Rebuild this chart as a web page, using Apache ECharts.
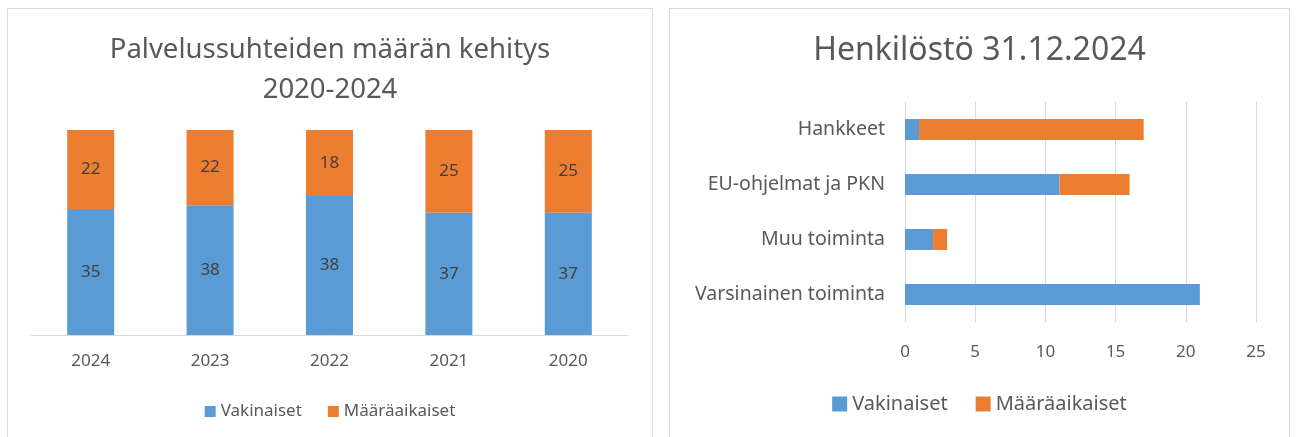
<!DOCTYPE html>
<html>
<head>
<meta charset="utf-8">
<script src="https://cdn.jsdelivr.net/npm/echarts@6/dist/echarts.min.js"></script>
<style>
  html, body { margin: 0; padding: 0; background: #fff; overflow: hidden; }
  .panel { position: absolute; top: 8px; height: 440px; border: 1px solid #d9d9d9; background: #fff; }
  #left { left: 7px; width: 644px; }
  #right { left: 669px; width: 619px; }
</style>
</head>
<body>
<div id="left" class="panel"></div>
<div id="right" class="panel"></div>
<script>
var FONT = '"Noto Sans", "Open Sans", sans-serif';
var TXT = '#595959';
var BLUE = '#5b9bd5';
var ORANGE = '#ed7d31';

// vasen: palvelussuhteet vuosittain
var years = ['2024', '2023', '2022', '2021', '2020'];
var vakinaiset = [35, 38, 38, 37, 37];
var maaraaikaiset = [22, 22, 18, 25, 25];

// oikea: henkilöstö 31.12.2024 (alhaalta ylös)
var toiminnot = ['Varsinainen toiminta', 'Muu toiminta', 'EU-ohjelmat ja PKN', 'Hankkeet'];
var vakHenk = [21, 2, 11, 1];
var maarHenk = [0, 1, 5, 16];
var xTicks = [0, 5, 10, 15, 20, 25];

// 100 % pinottu sarake -> osuudet
var vakPct = [], maarPct = [];
for (var i = 0; i < years.length; i++) {
  var sum = vakinaiset[i] + maaraaikaiset[i];
  vakPct.push(vakinaiset[i] / sum * 100);
  maarPct.push(maaraaikaiset[i] / sum * 100);
}

var chartLeft = echarts.init(document.getElementById('left'));
chartLeft.setOption({
  animation: false,
  textStyle: { fontFamily: FONT },
  title: {
    text: 'Palvelussuhteiden määrän kehitys\n2020-2024',
    left: 'center',
    top: 16,
    textStyle: { fontFamily: FONT, fontSize: 27.5, fontWeight: 'normal', color: TXT, lineHeight: 40 }
  },
  legend: {
    left: 'center',
    top: 389,
    itemWidth: 11,
    itemHeight: 11,
    itemGap: 26,
    icon: 'rect',
    textStyle: { fontFamily: FONT, fontSize: 17, color: TXT },
    data: ['Vakinaiset', 'Määräaikaiset']
  },
  grid: { left: 23, top: 121, width: 597, height: 205 },
  xAxis: {
    type: 'category',
    data: years,
    axisLine: { lineStyle: { color: '#d9d9d9' } },
    axisTick: { show: false },
    axisLabel: { color: TXT, fontSize: 17, margin: 18, fontFamily: FONT }
  },
  yAxis: { type: 'value', min: 0, max: 100, show: false },
  series: [
    {
      name: 'Vakinaiset', type: 'bar', stack: 'a', barWidth: 47,
      itemStyle: { color: BLUE },
      label: {
        show: true, position: 'inside', color: '#404040', fontSize: 17, fontFamily: FONT,
        formatter: function (p) { return vakinaiset[p.dataIndex]; }
      },
      data: vakPct
    },
    {
      name: 'Määräaikaiset', type: 'bar', stack: 'a', barWidth: 47,
      itemStyle: { color: ORANGE },
      label: {
        show: true, position: 'inside', color: '#404040', fontSize: 17, fontFamily: FONT,
        formatter: function (p) { return maaraaikaiset[p.dataIndex]; }
      },
      data: maarPct
    }
  ]
});

var chartRight = echarts.init(document.getElementById('right'));
chartRight.setOption({
  animation: false,
  textStyle: { fontFamily: FONT },
  title: {
    text: 'Henkilöstö 31.12.2024',
    left: 'center',
    top: 21,
    textStyle: { fontFamily: FONT, fontSize: 32, fontWeight: 'normal', color: TXT }
  },
  legend: {
    left: 'center',
    top: 380,
    itemWidth: 15,
    itemHeight: 15,
    itemGap: 28,
    icon: 'rect',
    textStyle: { fontFamily: FONT, fontSize: 20, color: TXT },
    data: ['Vakinaiset', 'Määräaikaiset']
  },
  grid: { left: 235, top: 93, width: 351, height: 220 },
  xAxis: {
    type: 'value',
    min: xTicks[0],
    max: xTicks[xTicks.length - 1],
    interval: 5,
    axisLine: { show: false },
    axisTick: { show: false },
    splitLine: { lineStyle: { color: '#d9d9d9' } },
    axisLabel: { color: TXT, fontSize: 17, margin: 22, fontFamily: FONT }
  },
  yAxis: {
    type: 'category',
    data: toiminnot,
    axisLine: { show: false },
    axisTick: { show: false },
    axisLabel: { color: TXT, fontSize: 19.5, margin: 20, fontFamily: FONT }
  },
  series: [
    { name: 'Vakinaiset', type: 'bar', stack: 'h', barWidth: 21, itemStyle: { color: BLUE }, data: vakHenk },
    { name: 'Määräaikaiset', type: 'bar', stack: 'h', barWidth: 21, itemStyle: { color: ORANGE }, data: maarHenk }
  ]
});
</script>
</body>
</html>
